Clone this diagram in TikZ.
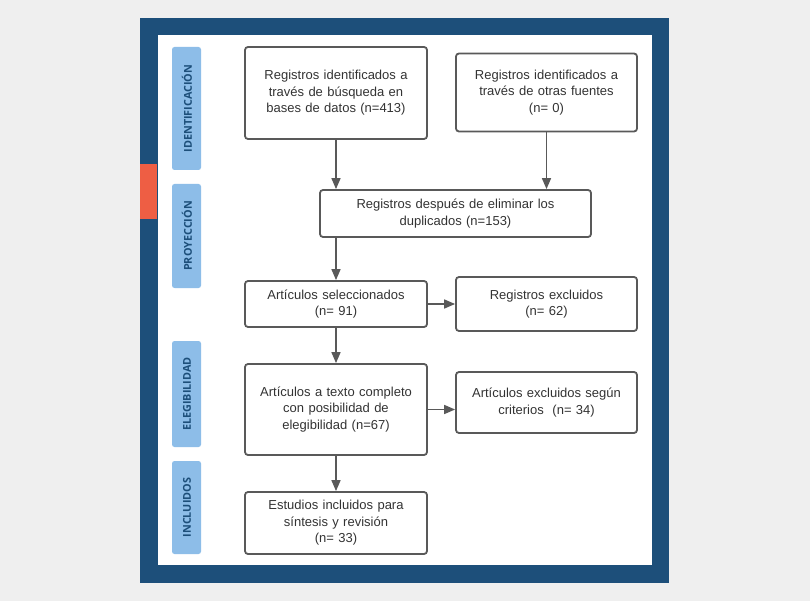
\documentclass[tikz,border=0pt]{standalone}
\usepackage{fontspec}
\setmainfont{Liberation Sans}
\newfontfamily\labfont{Open Sans}
\usetikzlibrary{arrows.meta}
\definecolor{bgc}{HTML}{EFEFEF}
\definecolor{navy}{HTML}{1D4F7A}
\definecolor{orng}{HTML}{EE5E44}
\definecolor{lblue}{HTML}{8DBDE8}
\definecolor{bordc}{HTML}{595959}
\definecolor{txtc}{HTML}{333333}
\tikzset{
  box/.style={draw=bordc, line width=1.8pt, rounded corners=3pt, fill=white,
    inner sep=0pt, align=center, text=txtc,
    font=\fontsize{13}{16.5}\selectfont},
  phasebg/.style={fill=lblue, rounded corners=2.5pt},
  phase/.style={inner sep=0pt, rotate=90, text=navy,
    font=\labfont\bfseries\fontsize{10.8}{11}\selectfont},
  arr/.style={draw=bordc, line width=1.6pt, -{Triangle[length=11pt,width=9pt]}}
}
\begin{document}
\begin{tikzpicture}[x=1pt,y=-1pt]
\useasboundingbox (0,0) rectangle (810,601);
\fill[bgc] (0,0) rectangle (810,601);
\fill[navy] (140,18) rectangle (669,583);
\fill[orng] (140,164) rectangle (157,219);
\fill[white] (157.5,35.5) rectangle (652,565);
% phase labels
\fill[phasebg] (172,47) rectangle (201,170);
\fill[phasebg] (172,184) rectangle (201,288);
\fill[phasebg] (172,341) rectangle (201,447);
\fill[phasebg] (172,461) rectangle (201,554);
\node[phase] (p1) at (187,108.5) {IDENTIFICACIÓN};
\node[phase] (p2) at (187,236) {PROYECCIÓN};
\node[phase] (p3) at (187,394) {ELEGIBILIDAD};
\node[phase] (p4) at (187,507.5) {INCLUIDOS};
% boxes
\node[box, minimum width=182pt, minimum height=92pt, text width=176pt] (b1) at (336,93)
  {Registros identificados a\\ través de búsqueda en\\ bases de datos (n=413)};
\node[box, minimum width=181pt, minimum height=78pt, text width=176pt] (b2) at (546.5,92.5)
  {Registros identificados a\\ través de otras fuentes\\ (n= 0)};
\node[box, minimum width=271pt, minimum height=47pt, text width=265pt] (b3) at (455.5,213.5)
  {Registros después de eliminar los\\ duplicados (n=153)};
\node[box, minimum width=182pt, minimum height=46pt, text width=176pt] (b4) at (336,304)
  {Artículos seleccionados\\ (n= 91)};
\node[box, minimum width=181pt, minimum height=54pt, text width=176pt] (b5) at (546.5,304)
  {Registros excluidos\\ (n= 62)};
\node[box, minimum width=182pt, minimum height=91pt, text width=176pt] (b6) at (336,409.5)
  {Artículos a texto completo\\ con posibilidad de\\ elegibilidad (n=67)};
\node[box, minimum width=181pt, minimum height=61pt, text width=176pt] (b7) at (546.5,402.5)
  {Artículos excluidos según\\ criterios~~(n= 34)};
\node[box, minimum width=182pt, minimum height=62pt, text width=176pt] (b8) at (336,523)
  {Estudios incluidos para\\ síntesis y revisión\\ (n= 33)};
% arrows
\draw[arr] (b1.south) -- (b1.south |- b3.north);
\draw[arr] (b2.south) -- (b2.south |- b3.north);
\draw[arr] (b4.north |- b3.south) -- (b4.north);
\draw[arr] (b4.east) -- (b4.east -| b5.west);
\draw[arr] (b4.south) -- (b6.north);
\draw[arr] (b6.east) -- (b6.east -| b7.west);
\draw[arr] (b6.south) -- (b8.north);
\end{tikzpicture}
\end{document}
